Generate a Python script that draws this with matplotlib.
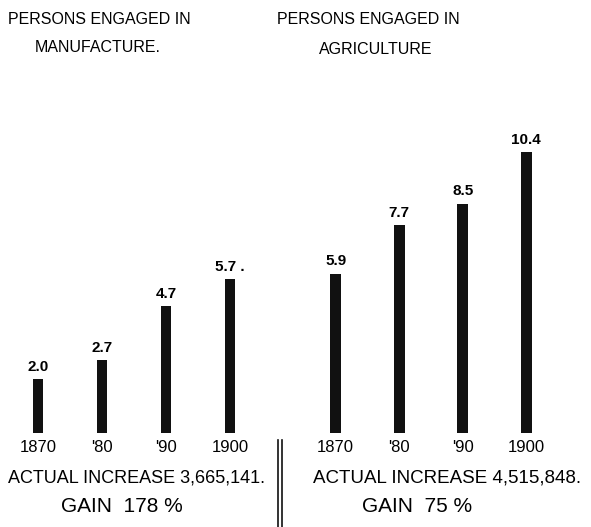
import matplotlib

matplotlib.use("Agg")
import matplotlib.pyplot as plt

plt.rcParams["font.family"] = ["Liberation Sans", "DejaVu Sans"]

YEARS = ["1870", "'80", "'90", "1900"]
MANUF = [2.0, 2.7, 4.7, 5.7]
AGRI = [5.9, 7.7, 8.5, 10.4]
MANUF_LABELS = ["2.0", "2.7", "4.7", "5.7 ."]
AGRI_LABELS = ["5.9", "7.7", "8.5", "10.4"]
MANUF_INCREASE = "ACTUAL INCREASE 3,665,141."
AGRI_INCREASE = "ACTUAL INCREASE 4,515,848."
MANUF_GAIN = "GAIN  178 %"
AGRI_GAIN = "GAIN  75 %"

W, H = 591, 527
fig = plt.figure(figsize=(W / 100, H / 100), dpi=100)


def px_axes(x0, x1, y_base, y_top):
    # pixel coords measured from top-left
    return fig.add_axes([x0 / W, 1 - y_base / H, (x1 - x0) / W, (y_base - y_top) / H])


def panel(ax, vals, labels):
    x = range(len(vals))
    ax.bar(x, vals, width=0.17, color="#111111")
    for xi, v, lab in zip(x, vals, labels):
        ax.text(xi, v + 0.2, lab, ha="center", va="bottom", fontsize=11, fontweight="bold")
    for xi, yr in zip(x, YEARS):
        ax.text(xi, -0.25, yr, ha="center", va="top", fontsize=12)
    ax.set_xlim(-0.5, 3.5)
    ax.set_ylim(0, 12)
    ax.axis("off")


# 27 px per unit, baseline at y=433 px
ax1 = px_axes(6, 262, 433, 433 - 27 * 12)
panel(ax1, MANUF, MANUF_LABELS)
ax2 = px_axes(304, 558, 433, 433 - 27 * 12)
panel(ax2, AGRI, AGRI_LABELS)


def ftext(x, y, s, **kw):
    fig.text(x / W, 1 - y / H, s, ha="center", va="center", **kw)


ftext(99, 19, "PERSONS ENGAGED IN", fontsize=11.5)
ftext(98, 48, "MANUFACTURE.", fontsize=11.5)
ftext(368, 19, "PERSONS ENGAGED IN", fontsize=11.5)
ftext(376, 49, "AGRICULTURE", fontsize=11.5)

ftext(136, 478, MANUF_INCREASE, fontsize=13)
ftext(122, 506, MANUF_GAIN, fontsize=15)
ftext(447, 478, AGRI_INCREASE, fontsize=13.5)
ftext(417, 506, AGRI_GAIN, fontsize=15)

# double separator line
for xs in (278, 282):
    fig.add_artist(plt.Line2D([xs / W, xs / W], [0, 1 - 440 / H], color="#111111", lw=1.2))

fig.savefig("out.png", dpi=100, facecolor="white")
